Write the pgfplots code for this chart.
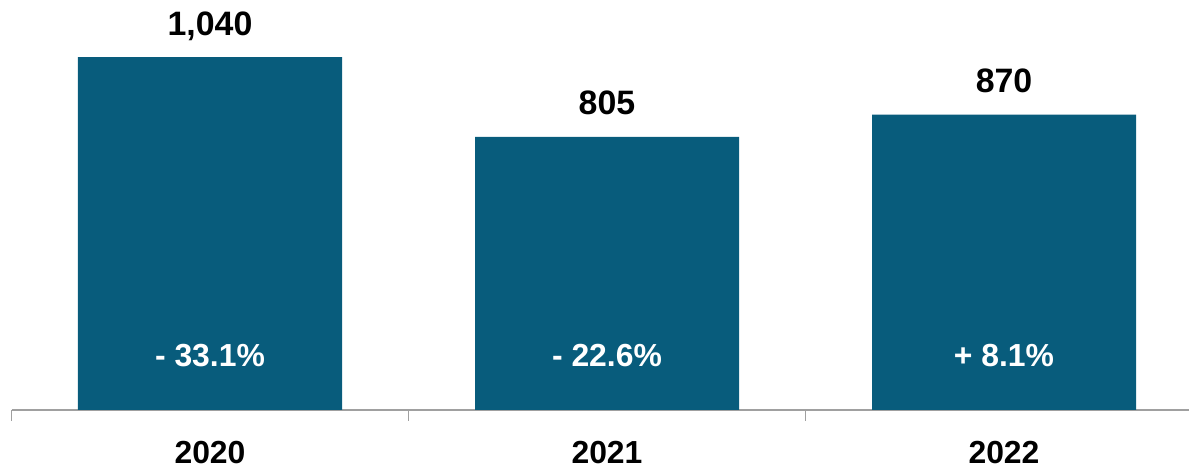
\documentclass[border=0pt]{standalone}
\usepackage{pgfplots}
\pgfplotsset{compat=1.18}
\usepackage{fontspec}
\setmainfont{Liberation Sans}
\definecolor{barblue}{RGB}{8,92,124}
\definecolor{axgray}{RGB}{160,160,160}
\begin{document}
\begin{tikzpicture}[x=1bp,y=1bp]
\useasboundingbox (0,0) rectangle (1189,469);
\begin{axis}[
  at={(11.5bp,59bp)}, anchor=south west,
  scale only axis,
  width=1177.5bp, height=410bp,
  xmin=-0.5, xmax=2.466,
  ymin=0, ymax=1208,
  axis x line*=bottom,
  axis y line=none,
  x axis line style={draw=axgray, line width=1.2bp, -},
  xtick={-0.5,0.5,1.5,2.5},
  xticklabels={},
  tick align=outside,
  major tick length=11bp,
  xtick style={draw=axgray, line width=1bp},
  ybar, bar width=0.665,
  enlargelimits=false,
  clip=false,
  point meta=explicit symbolic,
  nodes near coords,
  nodes near coords style={anchor=base, yshift=22bp, font=\bfseries\fontsize{34}{34}\selectfont, text=black},
]
\addplot[fill=barblue, draw=none, bar shift=0pt] coordinates {(0,1040) [1,040] (1,805) [805] (2,870) [870]};
\node[anchor=base, text=white, font=\bfseries\fontsize{32}{32}\selectfont] at (axis cs:0,127) {- 33.1\%};
\node[anchor=base, text=white, font=\bfseries\fontsize{32}{32}\selectfont] at (axis cs:1,127) {- 22.6\%};
\node[anchor=base, text=white, font=\bfseries\fontsize{32}{32}\selectfont] at (axis cs:2,127) {+ 8.1\%};
\node[anchor=base, text=black, font=\bfseries\fontsize{32}{32}\selectfont, yshift=-54bp, inner sep=1bp] at (axis cs:0,0) {2020};
\node[anchor=base, text=black, font=\bfseries\fontsize{32}{32}\selectfont, yshift=-54bp, inner sep=1bp] at (axis cs:1,0) {2021};
\node[anchor=base, text=black, font=\bfseries\fontsize{32}{32}\selectfont, yshift=-54bp, inner sep=1bp] at (axis cs:2,0) {2022};
\end{axis}
\end{tikzpicture}
\end{document}
